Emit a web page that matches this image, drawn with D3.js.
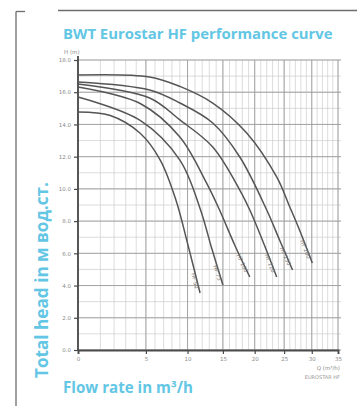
<!DOCTYPE html>
<html><head><meta charset="utf-8">
<script src="https://cdn.jsdelivr.net/npm/d3@7"></script>
<style>html,body{margin:0;padding:0;background:#fff;}svg{display:block;}</style>
</head><body>
<svg id="c" width="357" height="406"></svg>
<script>
const title = "BWT Eurostar HF performance curve";
const yTitle = "Total head in м вод.ст.";
const xTitle = "Flow rate in m³/h";
const xTicks = [0, 5, 10, 15, 20, 25, 30, 35];
const yTicks = [0, 2, 4, 6, 8, 10, 12, 14, 16, 18];
const models = ["HF 50", "HF 75", "HF 100", "HF 120", "HF 150", "HF 200"];
const curve1 = [[0,14.77],[1.7,14.55],[4.4,13.45],[6.6,11.79],[8.5,9.31],[10.0,6.62],[11.7,3.54]];
const curve2 = [[0,15.70],[4.4,14.25],[9.0,11.79],[11.7,8.79],[13.35,6.31],[15.0,4.03]];
const curve3 = [[0,16.33],[4.4,15.3],[9.0,13.22],[12.6,10.37],[14.5,8.69],[16.8,6.52],[19.2,4.53]];
const curve4 = [[0,16.51],[5.4,15.64],[9.0,14.28],[13.5,12.60],[17.6,9.93],[19.2,8.69],[21.6,6.52],[23.7,4.53]];
const curve5 = [[0,16.64],[5.4,16.14],[9.0,15.33],[13.5,14.09],[17.6,11.98],[22.0,8.69],[24.2,6.83],[26.5,4.97]];
const curve6 = [[0,17.07],[5.4,16.95],[9.0,16.36],[13.5,15.33],[18.7,13.47],[23.7,10.74],[26.0,8.88],[27.75,7.45],[30.1,5.40]];
const curves = [curve1, curve2, curve3, curve4, curve5, curve6];

const svg = d3.select("#c");
const blue = "#62c6e4";

// frame
svg.append("line").attr("x1",16).attr("x2",16).attr("y1",11.5).attr("y2",406).attr("stroke","#6d6d70").attr("stroke-width",1.3);
svg.append("line").attr("x1",16).attr("x2",25).attr("y1",11.5).attr("y2",11.5).attr("stroke","#6d6d70").attr("stroke-width",1.3);
svg.append("line").attr("x1",58).attr("x2",357).attr("y1",10.5).attr("y2",10.5).attr("stroke","#6d6d70").attr("stroke-width",1.3);

// title
const tt = svg.append("text").attr("x",63).attr("y",39).attr("fill",blue)
  .attr("font-family","Open Sans").attr("font-weight",700).attr("font-size",13).text(title);
tt.attr("font-size", 13 * 270 / tt.node().getComputedTextLength());

const x = d3.scalePow().exponent(0.69).domain([0, 35]).range([78, 338]);
const y = d3.scaleLinear().domain([0, 18]).range([350, 60]);

const g = svg.append("g");
// minor grid
const xMinor = d3.range(0, 36, 1);
const yMinor = d3.range(0, 18.01, 1);
g.selectAll(".xm").data(xMinor).enter().append("line")
  .attr("x1",d=>x(d)).attr("x2",d=>x(d)).attr("y1",y(18)).attr("y2",y(0))
  .attr("stroke","#cdcdcd").attr("stroke-width",0.7);
g.selectAll(".ym").data(yMinor).enter().append("line")
  .attr("x1",x(0)).attr("x2",x(35)+3).attr("y1",d=>y(d)).attr("y2",d=>y(d))
  .attr("stroke","#cdcdcd").attr("stroke-width",0.7);
// major grid
g.selectAll(".xM").data(xTicks).enter().append("line")
  .attr("x1",d=>x(d)).attr("x2",d=>x(d)).attr("y1",y(18)).attr("y2",y(0))
  .attr("stroke","#9e9e9e").attr("stroke-width",0.9);
g.selectAll(".yM").data(yTicks).enter().append("line")
  .attr("x1",x(0)).attr("x2",x(35)+3).attr("y1",d=>y(d)).attr("y2",d=>y(d))
  .attr("stroke","#9e9e9e").attr("stroke-width",0.9);

// axes
const xa = svg.append("g").attr("transform",`translate(0,${y(0)})`)
  .call(d3.axisBottom(x).tickValues(xTicks).tickSize(4).tickFormat(d3.format("d")));
const ya = svg.append("g").attr("transform",`translate(${x(0)},0)`)
  .call(d3.axisLeft(y).tickValues(yTicks).tickSize(4).tickFormat(d=>d.toFixed(1)));
[xa, ya].forEach(a => {
  a.select(".domain").attr("stroke","#4a4a4a").attr("stroke-width",1.8);
  a.selectAll(".tick line").attr("stroke","#4a4a4a").attr("stroke-width",1.2);
  a.selectAll(".tick text").attr("fill","#8a8a8a").attr("font-family","DejaVu Sans").attr("font-size",5.5);
});
ya.select(".domain").attr("d", `M0,${y(18)-4}V${y(0)}`);

svg.append("text").attr("x",64).attr("y",54).attr("fill","#8a8a8a").attr("font-family","DejaVu Sans").attr("font-size",5.5).text("H (m)");
svg.append("text").attr("x",340).attr("y",370).attr("text-anchor","end").attr("fill","#8a8a8a").attr("font-family","DejaVu Sans").attr("font-size",5.5).text("Q (m³/h)");
svg.append("text").attr("x",340).attr("y",379).attr("text-anchor","end").attr("fill","#9a9a9a").attr("font-family","DejaVu Sans").attr("font-size",5).text("EUROSTAR HF");

// curves
const line = d3.line().x(d=>x(d[0])).y(d=>y(d[1])).curve(d3.curveCatmullRom.alpha(0.5));
svg.selectAll(".crv").data(curves).enter().append("path")
  .attr("d", line).attr("fill","none").attr("stroke","#555").attr("stroke-width",1.5);

// model labels near curve ends
curves.forEach((c, i) => {
  const a = c[c.length-2], b = c[c.length-1];
  const ax = x(a[0]), ay = y(a[1]), bx = x(b[0]), by = y(b[1]);
  const ang = Math.atan2(by-ay, bx-ax) * 180 / Math.PI;
  svg.append("text")
    .attr("transform", `translate(${bx-5},${by-4}) rotate(${ang})`)
    .attr("text-anchor","end").attr("fill","#777").attr("font-family","DejaVu Sans").attr("font-size",5.5)
    .text(models[i]);
});

// axis titles
svg.append("text").attr("transform","translate(48,378) rotate(-90)").attr("fill",blue)
  .attr("font-family","Open Sans").attr("font-weight",700).attr("font-size",14).text(yTitle)
  .each(function(){ d3.select(this).attr("font-size", 14*196/this.getComputedTextLength()); });
svg.append("text").attr("x",63).attr("y",393).attr("fill",blue)
  .attr("font-family","Open Sans").attr("font-weight",700).attr("font-size",14).text(xTitle)
  .each(function(){ d3.select(this).attr("font-size", 14*130/this.getComputedTextLength()); });
</script>
</body></html>
